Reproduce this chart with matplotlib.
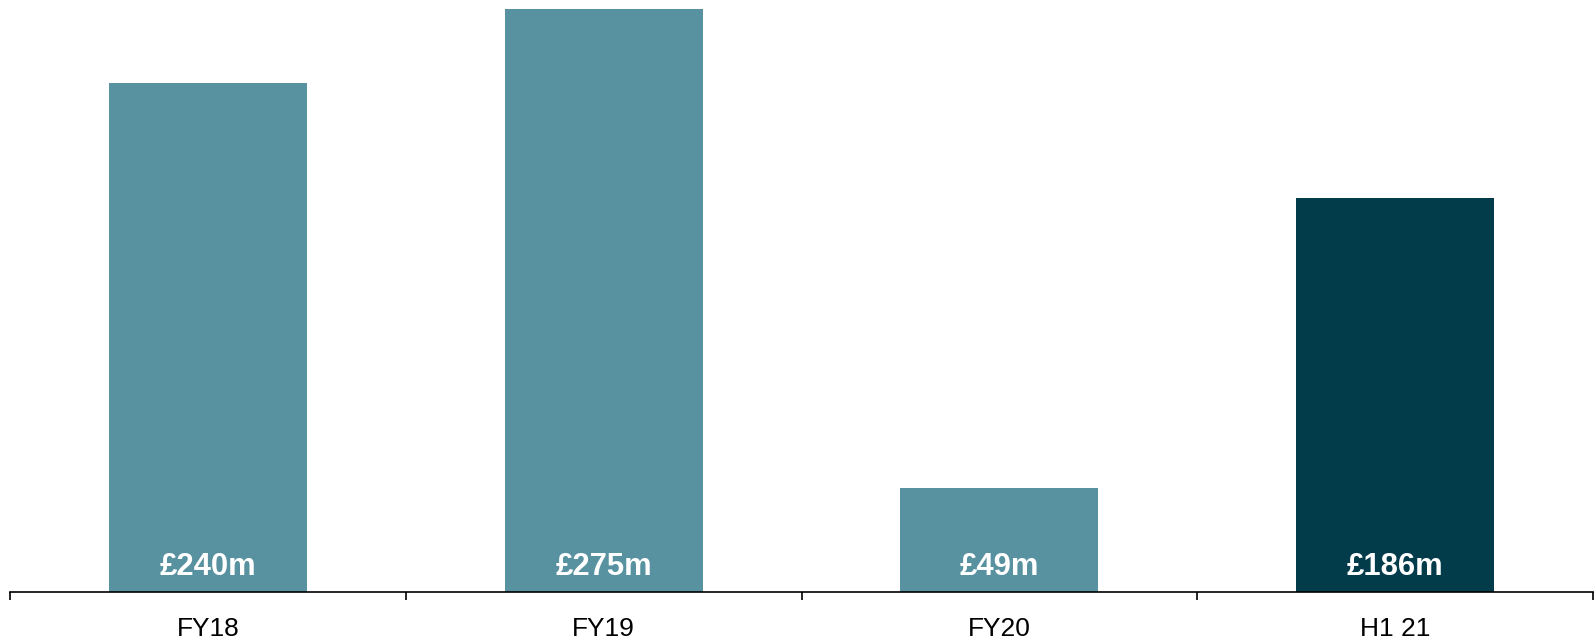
import matplotlib
matplotlib.use("Agg")
import matplotlib.pyplot as plt

categories = ["FY18", "FY19", "FY20", "H1 21"]
values = [240, 275, 49, 186]
labels = ["£240m", "£275m", "£49m", "£186m"]
colors = ["#5892A0", "#5892A0", "#5892A0", "#023B4A"]

plt.rcParams["font.family"] = ["Liberation Sans", "DejaVu Sans"]

W, H = 1595, 641
fig = plt.figure(figsize=(W / 100, H / 100), dpi=100)
ax = fig.add_axes([10 / W, (H - 592) / H, (1593 - 10) / W, (592 - 9) / H])

x = list(range(len(categories)))
ax.bar(x, values, width=0.5, color=colors)
ax.set_xlim(-0.5, len(categories) - 0.5)
ax.set_ylim(0, max(values))

for xi, lab in zip(x, labels):
    ax.annotate(lab, xy=(xi, 0), xytext=(0, 12.3), textcoords="offset points",
                ha="center", va="baseline", color="white", fontsize=22.3,
                fontweight="bold")

for s in ["top", "right", "left"]:
    ax.spines[s].set_visible(False)
ax.spines["bottom"].set_linewidth(1.2)
ax.spines["bottom"].set_color("black")
ax.set_yticks([])
ax.set_xticks(x)
ax.set_xticklabels(categories, fontsize=19)
ax.tick_params(axis="x", which="major", length=0, pad=18)
ax.set_xticks([i - 0.5 for i in range(len(categories) + 1)], minor=True)
ax.tick_params(axis="x", which="minor", length=6, width=1.2, direction="out")

fig.savefig("out.png", dpi=100)
